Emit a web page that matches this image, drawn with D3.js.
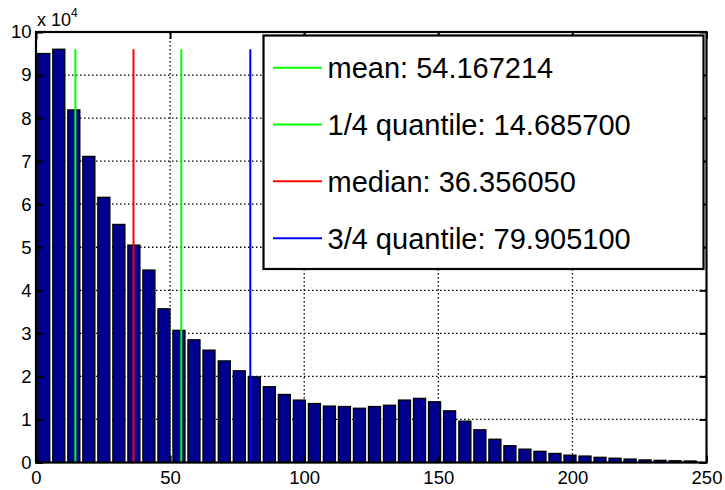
<!DOCTYPE html>
<html>
<head>
<meta charset="utf-8">
<script src="https://cdn.jsdelivr.net/npm/d3@7"></script>
<style>
  html, body { margin: 0; padding: 0; background: #fff; }
  svg { display: block; font-family: "Liberation Sans", Arial, Helvetica, sans-serif; }
</style>
</head>
<body>
<svg id="chart" width="725" height="490"></svg>
<script>
// ---- data ----
const binCenters = [2.9, 8.5, 14.1, 19.7, 25.3, 30.9, 36.5, 42.1, 47.7, 53.3,
  58.9, 64.5, 70.2, 75.8, 81.4, 87.0, 92.6, 98.2, 103.8, 109.4,
  115.0, 120.6, 126.2, 131.8, 137.4, 143.0, 148.6, 154.2, 159.9, 165.5,
  171.1, 176.7, 182.3, 187.9, 193.5, 199.1, 204.7, 210.3, 215.9, 221.5,
  227.1, 232.7, 238.3, 243.9];
const binCounts = [95000, 96000, 81900, 71100, 61600, 55300, 50500, 44700, 35700, 30700,
  28500, 26100, 23600, 21300, 19900, 17600, 15800, 14500, 13700, 13100,
  13000, 12600, 13000, 13300, 14500, 14900, 14100, 12000, 9600, 7600,
  5400, 3900, 3100, 2600, 2100, 1700, 1500, 1200, 1000, 800,
  600, 500, 400, 350];
const binWidth = 5.607;
const statNames = ["mean", "1/4 quantile", "median", "3/4 quantile"];
const statValues = [54.167214, 14.6857, 36.35605, 79.9051];
const statColors = ["#00ff00", "#00ff00", "#ff0000", "#0000ff"];
const xTicks = [0, 50, 100, 150, 200, 250];
const yTicks = [0, 10000, 20000, 30000, 40000, 50000, 60000, 70000, 80000, 90000, 100000];

// ---- layout ----
const svg = d3.select("#chart");
const L = 36, R = 706.5, T = 32, B = 462.5;
const x = d3.scaleLinear().domain([0, 250]).range([L, R]);
const y = d3.scaleLinear().domain([0, 100000]).range([B, T]);

// grid
const grid = svg.append("g");
grid.selectAll("line.vg").data(xTicks.filter(d => d > 0 && d < 250)).join("line")
  .attr("x1", d => x(d)).attr("x2", d => x(d)).attr("y1", B).attr("y2", T)
  .attr("stroke", "#000").attr("stroke-width", 1.3).attr("stroke-dasharray", "1.5,2.5");
grid.selectAll("line.hg").data(yTicks.filter(d => d > 0 && d < 100000)).join("line")
  .attr("x1", L).attr("x2", R).attr("y1", d => y(d)).attr("y2", d => y(d))
  .attr("stroke", "#000").attr("stroke-width", 1.3).attr("stroke-dasharray", "1.5,2.5");

// bars
const bw = 0.8 * binWidth;
svg.append("g").selectAll("rect").data(binCenters).join("rect")
  .attr("x", (d) => x(d - bw / 2))
  .attr("width", (d) => x(d + bw / 2) - x(d - bw / 2))
  .attr("y", (d, i) => y(binCounts[i]))
  .attr("height", (d, i) => y(0) - y(binCounts[i]))
  .attr("fill", "#00008f").attr("stroke", "#000").attr("stroke-width", 1.3);

// stat lines
const maxCount = d3.max(binCounts);
svg.append("g").selectAll("line").data(statValues).join("line")
  .attr("x1", d => x(d)).attr("x2", d => x(d))
  .attr("y1", y(0)).attr("y2", y(maxCount))
  .attr("stroke", (d, i) => statColors[i]).attr("stroke-width", 2);

// axes frame
const xAxisB = d3.axisBottom(x).tickValues(xTicks).tickSize(-7).tickPadding(8).tickFormat(d3.format("d"));
const xAxisT = d3.axisTop(x).tickValues(xTicks).tickSize(-7).tickFormat("");
const yAxisL = d3.axisLeft(y).tickValues(yTicks).tickSize(-7).tickPadding(4.5).tickFormat(d => d / 10000);
const yAxisR = d3.axisRight(y).tickValues(yTicks).tickSize(-7).tickFormat("");

function styleAxis(g) {
  g.select(".domain").remove();
  g.selectAll(".tick line").attr("stroke", "#000").attr("stroke-width", 2);
  g.selectAll(".tick text").attr("fill", "#000").style("font-size", "18.5px")
    .style("font-family", '"Liberation Sans", Arial, sans-serif');
}
svg.append("g").attr("transform", `translate(0,${B})`).call(xAxisB).call(styleAxis);
svg.append("g").attr("transform", `translate(0,${T})`).call(xAxisT).call(styleAxis);
svg.append("g").attr("transform", `translate(${L},0)`).call(yAxisL).call(styleAxis);
svg.append("g").attr("transform", `translate(${R},0)`).call(yAxisR).call(styleAxis);

svg.append("rect").attr("x", L).attr("y", T).attr("width", R - L).attr("height", B - T)
  .attr("fill", "none").attr("stroke", "#000").attr("stroke-width", 2.2);

// exponent label
const expo = svg.append("text").attr("x", 37).attr("y", 26).attr("fill", "#000").style("font-size", "18px");
expo.append("tspan").text("x 10");
expo.append("tspan").attr("dy", -9).style("font-size", "12px").text("4");

// legend
const lg = svg.append("g");
lg.append("rect").attr("x", 263.5).attr("y", 35.5).attr("width", 440).attr("height", 233.5)
  .attr("fill", "#fff").attr("stroke", "#000").attr("stroke-width", 2.2);
const rowY = [67.7, 124.4, 181.3, 238.2];
const rows = lg.selectAll("g.row").data(statNames).join("g").attr("class", "row")
  .attr("transform", (d, i) => `translate(0,${rowY[i]})`);
rows.append("line").attr("x1", 273).attr("x2", 322).attr("y1", 0).attr("y2", 0)
  .attr("stroke", (d, i) => statColors[i]).attr("stroke-width", 2);
rows.append("text").attr("x", 327.5).attr("y", 10.5).attr("fill", "#000")
  .style("font-size", "29px")
  .text((d, i) => `${d}: ${statValues[i].toFixed(6)}`);
</script>
</body>
</html>
